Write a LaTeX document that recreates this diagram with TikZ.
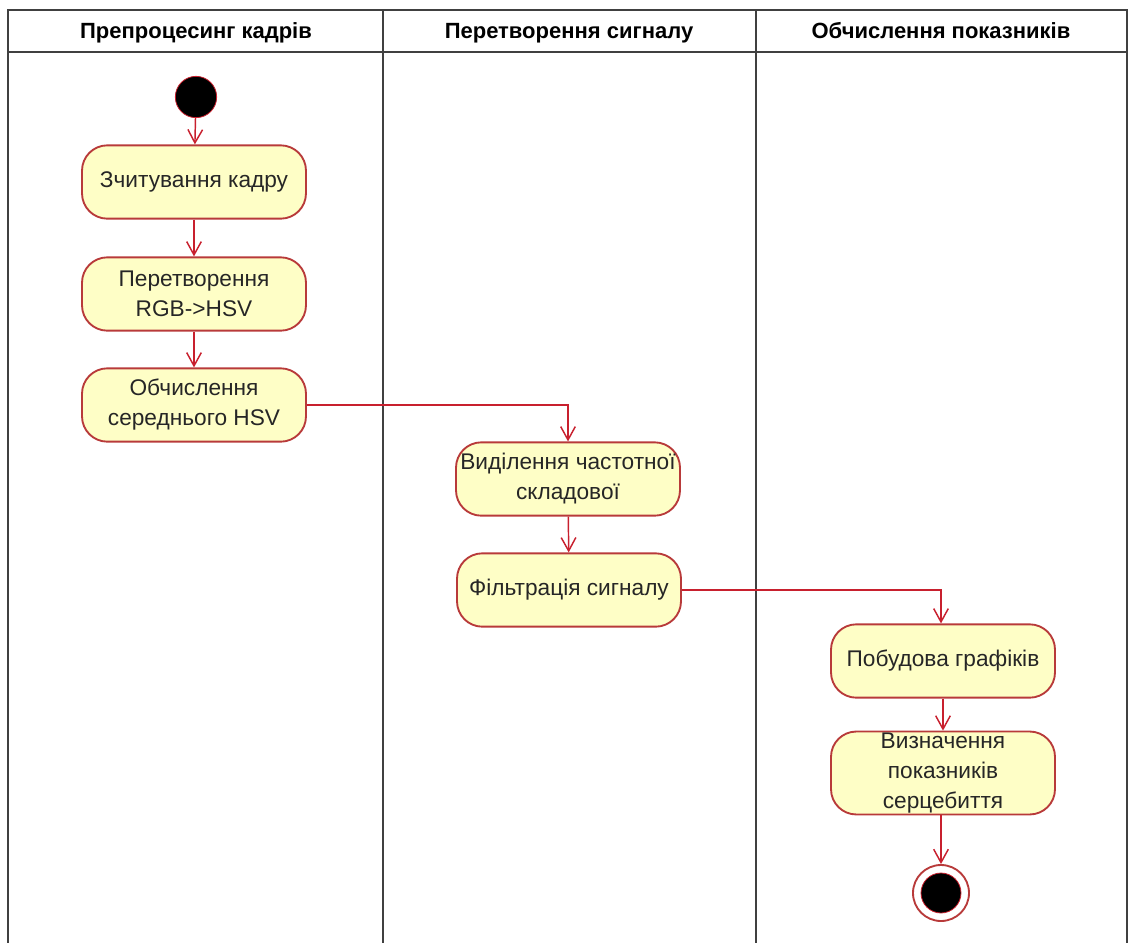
\documentclass[tikz,border=0pt]{standalone}
\usepackage{fontspec}
\setmainfont{Liberation Sans}
\usetikzlibrary{arrows.meta}
\definecolor{umlred}{HTML}{B83A3A}
\definecolor{umlarrow}{HTML}{C8202E}
\definecolor{umlfill}{HTML}{FEFEC6}
\tikzset{
  lane/.style={draw=black!75,line width=1.4pt},
  lanehead/.style={font=\fontsize{16.5}{19}\selectfont\bfseries,anchor=base},
  act/.style={draw=umlred,line width=1.4pt,fill=umlfill,rounded corners=19pt,
    minimum width=168pt,minimum height=55pt,align=center,text=black!85,
    font=\fontsize{17}{22.5}\selectfont,inner sep=1pt},
  flow/.style={draw=umlarrow,line width=1.1pt,-{Straight Barb[length=10pt,width=11pt,line width=1.1pt]}}
}
\begin{document}
\begin{tikzpicture}[x=0.75pt,y=-0.75pt]
\useasboundingbox (0,0) rectangle (1129,943);
% доріжки
\draw[lane] (8,945) -- (8,10) -- (1127,10) -- (1127,945);
\draw[lane] (8,52) -- (1127,52);
\draw[lane] (383,10) -- (383,945);
\draw[lane] (756,10) -- (756,945);
\node[lanehead] (laneA) at (196,38) {Препроцесинг кадрів};
\node[lanehead] (laneB) at (569,38) {Перетворення сигналу};
\node[lanehead] (laneC) at (941,38) {Обчислення показників};
% дії
\node[circle,fill=black,draw=umlarrow,line width=0.6pt,minimum size=31pt,inner sep=0pt] (start) at (196,97) {};
\node[act] (read) at (194,182) {Зчитування кадру};
\node[act] (rgbhsv) at (194,294) {Перетворення\\RGB->HSV};
\node[act] (meanhsv) at (194,405) {Обчислення\\середнього HSV};
\node[act] (freq) at (568,479) {Виділення частотної\\складової};
\node[act] (filt) at (569,590) {Фільтрація сигналу};
\node[act] (plots) at (943,661) {Побудова графіків};
\node[act] (metrics) at (943,773) {Визначення\\показників\\серцебиття};
\node[circle,draw=umlred,fill=white,line width=1.4pt,minimum size=42pt,inner sep=0pt] (stop) at (941,893) {};
\node[circle,fill=black,draw=umlarrow,line width=0.6pt,minimum size=30pt,inner sep=0pt] (stopdot) at (stop) {};
% переходи
\draw[flow] (start) -- (read);
\draw[flow] (read) -- (rgbhsv);
\draw[flow] (rgbhsv) -- (meanhsv);
\draw[flow] (meanhsv.east) -| (freq.north);
\draw[flow] (freq) -- (filt);
\draw[flow] (filt.east) -| ([xshift=-1.5pt]plots.north);
\draw[flow] (plots) -- (metrics);
\draw[flow] ([xshift=-1.5pt]metrics.south) -- (stop);
\end{tikzpicture}
\end{document}
